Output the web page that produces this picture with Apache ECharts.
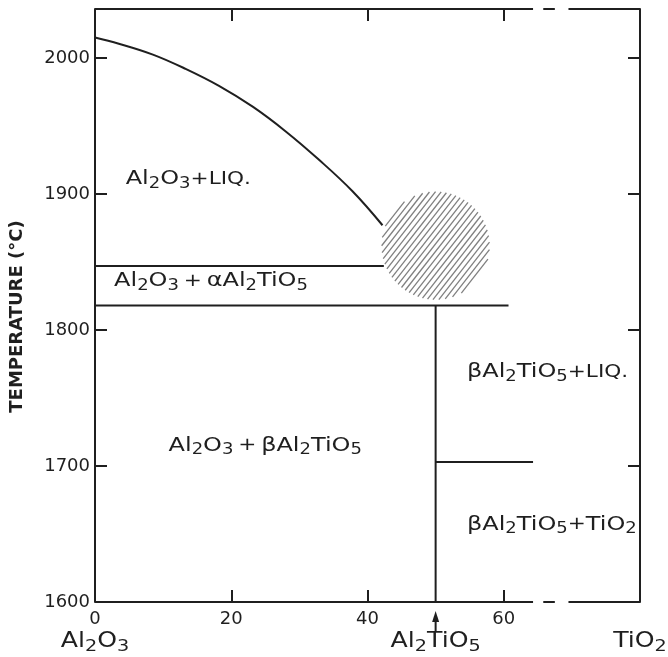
<!DOCTYPE html>
<html><head><meta charset="utf-8">
<script src="https://cdn.jsdelivr.net/npm/echarts@6/dist/echarts.min.js"></script>
<style>html,body{margin:0;padding:0;background:#fff}#c{width:668px;height:657px}</style>
</head><body><div id="c"></div>
<script>
// ---- data ----
const xTicks = [0, 20, 40, 60];
const yTicks = [1600, 1700, 1800, 1900, 2000];
const yMin = 1600, yMax = 2036, xMax = 80;
const liquidusX = [0, 3.5, 8.5, 13.3, 18.2, 23.2, 28.0, 32.8, 37.8, 42.2];
const liquidusT = [2015, 2010.5, 2002.5, 1992, 1979.5, 1964, 1946, 1925.5, 1902, 1877];
// phase boundary segments: (x1,T1) -> (x2,T2)
const boundaryX1 = [0, 0, 50, 50];
const boundaryT1 = [1847, 1818, 1818, 1703];
const boundaryX2 = [42.4, 60.7, 50, 64.3];
const boundaryT2 = [1847, 1818, 1600, 1703];
// broken frame on top and bottom edges
const frameStart = [0, 65.8, 69.5];
const frameEnd = [64.3, 67.5, 80];
// uncertain (hatched) region
const uncertainX = [50];
const uncertainT = [1862];
// region labels
const regionX = [4.5, 2.8, 10.8, 54.6, 54.6];
const regionT = [1911, 1836, 1715, 1769, 1657];
const regionText = [
  'Al{s|2}O{s|3}{p|+}{q|LIQ.}',
  'Al{s|2}O{s|3}\u2009{p|+}\u2009\u03b1Al{s|2}TiO{s|5}',
  'Al{s|2}O{s|3}\u2009{p|+}\u2009\u03b2Al{s|2}TiO{s|5}',
  '\u03b2Al{s|2}TiO{s|5}{p|+}{q|LIQ.}',
  '\u03b2Al{s|2}TiO{s|5}{p|+}TiO{s|2}'
];
// composition labels under the axis
const compX = [0, 50, 80];
const compText = ['Al{s|2}O{s|3}', 'Al{s|2}TiO{s|5}', 'TiO{s|2}'];
const arrowX = [50];

// ---- styles ----
const INK = '#1f1f1f';
const FONT = 'DejaVu Sans';

const chart = echarts.init(document.getElementById('c'), null, {renderer: 'canvas'});

const tickStyle = {show: true, inside: true, length: 12, lineStyle: {color: INK, width: 2}};
const baseX = {
  type: 'value', min: 0, max: xMax, interval: 20,
  axisLine: {show: false, onZero: false},
  splitLine: {show: false}
};
const baseY = {
  type: 'value', min: yMin, max: yMax, interval: 100,
  axisLine: {show: true, onZero: false, lineStyle: {color: INK, width: 2}},
  splitLine: {show: false}
};

function textItem(c, text, align, size, subSize, sx) {
  return {
    type: 'text', x: c[0], y: c[1], scaleX: sx, scaleY: 1,
    style: {
      text: text, fill: INK, fontSize: size, fontFamily: FONT,
      align: align, verticalAlign: 'middle', lineHeight: size + 5,
      rich: {
        s: {fontSize: subSize, fontFamily: FONT, fill: INK, lineHeight: Math.round(subSize * 0.8), verticalAlign: 'bottom'},
        p: {fontSize: 18, fontFamily: FONT, fill: INK},
        q: {fontSize: 18, fontFamily: FONT, fill: INK}
      }
    }
  };
}

const option = {
  animation: false,
  backgroundColor: '#ffffff',
  grid: {left: 94, right: 28, top: 9, bottom: 55},
  xAxis: [
    Object.assign({}, baseX, {
      position: 'bottom',
      axisTick: tickStyle,
      axisLabel: {
        show: true, margin: 8, color: INK, fontSize: 18, fontFamily: FONT,
        formatter: v => xTicks.includes(v) ? String(v) : ''
      }
    }),
    Object.assign({}, baseX, {
      position: 'top',
      axisTick: tickStyle,
      axisLabel: {show: false}
    })
  ],
  yAxis: [
    Object.assign({}, baseY, {
      position: 'left',
      axisTick: tickStyle,
      axisLabel: {
        show: true, margin: 5, color: INK, fontSize: 18, fontFamily: FONT,
        formatter: v => yTicks.includes(v) ? String(v) : ''
      },
      name: 'TEMPERATURE (\u00b0C)',
      nameLocation: 'middle',
      nameGap: 69,
      nameTextStyle: {color: INK, fontSize: 18, fontWeight: 'bold', fontFamily: FONT, padding: [0, 22, 0, 0]}
    }),
    Object.assign({}, baseY, {
      position: 'right',
      axisTick: tickStyle,
      axisLabel: {show: false}
    })
  ],
  series: [
    {
      name: 'liquidus', type: 'line', smooth: 0.4, showSymbol: false, symbol: 'none',
      clip: false,
      lineStyle: {color: INK, width: 2},
      data: liquidusX.map((x, i) => [x, liquidusT[i]])
    },
    {
      name: 'boundaries', type: 'custom', clip: false,
      encode: {x: [0, 2], y: [1, 3]},
      data: boundaryX1.map((x, i) => [x, boundaryT1[i], boundaryX2[i], boundaryT2[i]]),
      renderItem: (p, api) => {
        const a = api.coord([api.value(0), api.value(1)]);
        const b = api.coord([api.value(2), api.value(3)]);
        return {type: 'line', shape: {x1: a[0], y1: a[1], x2: b[0], y2: b[1]},
          style: {stroke: INK, lineWidth: 2}};
      }
    },
    {
      name: 'frame', type: 'custom', clip: false,
      encode: {x: [0, 1]},
      data: frameStart.map((s, i) => [s, frameEnd[i]]),
      renderItem: (p, api) => {
        const kids = [];
        [yMin, yMax].forEach(t => {
          const a = api.coord([api.value(0), t]);
          const b = api.coord([api.value(1), t]);
          kids.push({type: 'line', shape: {x1: a[0], y1: a[1], x2: b[0], y2: b[1]},
            style: {stroke: INK, lineWidth: 2}});
        });
        return {type: 'group', children: kids};
      }
    },
    {
      name: 'uncertain', type: 'custom', clip: false,
      encode: {x: 0, y: 1},
      data: uncertainX.map((x, i) => [x, uncertainT[i]]),
      renderItem: (p, api) => {
        const c = api.coord([api.value(0), api.value(1)]);
        const r = 54, step = 4.6, ang = 52 * Math.PI / 180;
        const dir = [Math.cos(ang), -Math.sin(ang)];
        const nrm = [Math.sin(ang), Math.cos(ang)];
        const kids = [];
        for (let d = -r + step / 2; d < r; d += step) {
          const h = Math.sqrt(r * r - d * d);
          const mx = c[0] + d * nrm[0], my = c[1] + d * nrm[1];
          kids.push({type: 'line',
            shape: {x1: mx - h * dir[0], y1: my - h * dir[1], x2: mx + h * dir[0], y2: my + h * dir[1]},
            style: {stroke: '#808080', lineWidth: 1.3}});
        }
        return {type: 'group', children: kids};
      }
    },
    {
      name: 'regions', type: 'custom', clip: false,
      encode: {x: 0, y: 1},
      data: regionX.map((x, i) => [x, regionT[i], i]),
      renderItem: (p, api) => {
        const c = api.coord([api.value(0), api.value(1)]);
        return textItem(c, regionText[api.value(2)], 'left', 20, 15, 1.2);
      }
    },
    {
      name: 'compositions', type: 'custom', clip: false,
      encode: {x: 0},
      data: compX.map((x, i) => [x, i]),
      renderItem: (p, api) => {
        const c = api.coord([api.value(0), yMin]);
        return textItem([c[0], c[1] + 40], compText[api.value(1)], 'center', 21, 16, 1.2);
      }
    },
    {
      name: 'arrow', type: 'custom', clip: false,
      encode: {x: 0},
      data: arrowX.map(x => [x]),
      renderItem: (p, api) => {
        const c = api.coord([api.value(0), yMin]);
        const x = c[0], y = c[1];
        return {type: 'group', children: [
          {type: 'line', shape: {x1: x, y1: y + 14, x2: x, y2: y + 30}, style: {stroke: INK, lineWidth: 2}},
          {type: 'polygon', shape: {points: [[x, y + 9], [x - 3.5, y + 20], [x + 3.5, y + 20]]}, style: {fill: INK}}
        ]};
      }
    }
  ]
};
chart.setOption(option);
</script>
</body></html>
